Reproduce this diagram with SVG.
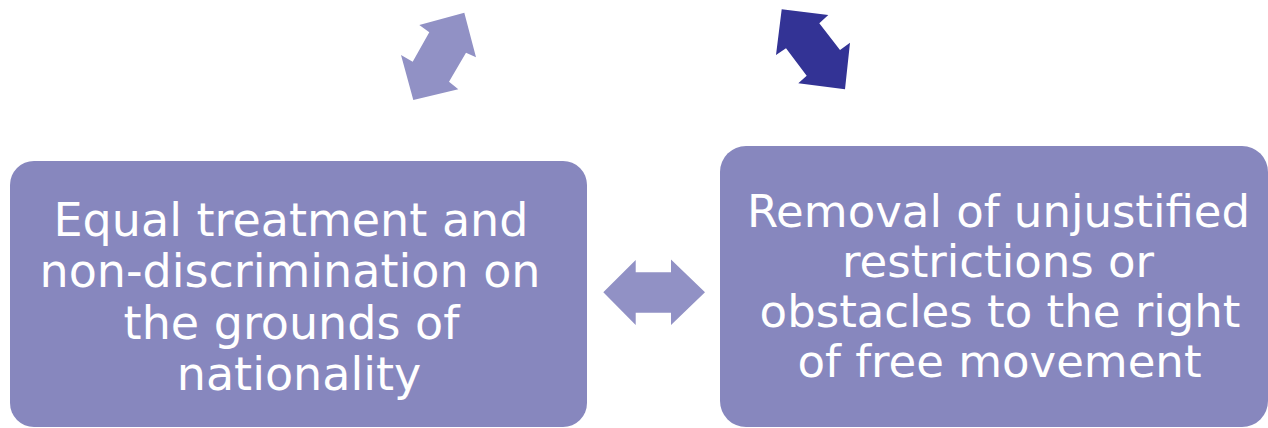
<svg xmlns="http://www.w3.org/2000/svg" width="1268" height="428" viewBox="0 0 1268 428">
<style>
.box{fill:#8787be;}
.lt{fill:#9191c5;}
.dk{fill:#333395;}
.t{fill:#ffffff;font-family:"DejaVu Sans","Verdana",sans-serif;text-anchor:middle;}
.l{font-size:46px;}
.r{font-size:45px;}
</style>
<rect width="1268" height="428" fill="#ffffff"/>
<g id="connectors">
<polygon class="lt" points="464.3,12.7 476,57.3 466,52.7 449,81.7 458.3,89.3 413.3,100 401,55 412.7,61.7 429.3,32.3 419.3,25"/>
<polygon class="dk" points="781.7,9.3 828.3,15 819.3,23.3 840,50 850,42.7 845,89.3 798.3,83.3 806.7,75.7 786,48.3 776,55"/>
<polygon class="lt" points="603.3,292.3 635.7,260 635.7,272.3 671,272.3 671,259.5 705,292.3 671,325 671,312.7 635.7,312.7 635.7,325"/>
</g>
<g id="node-equal-treatment">
<rect class="box" x="10" y="161" width="577" height="266" rx="24" ry="24"/>
<text class="t l"><tspan x="291" y="235.5">Equal treatment and</tspan><tspan x="290" y="287">non-discrimination on</tspan><tspan x="291.5" y="338.5">the grounds of</tspan><tspan x="299" y="390">nationality</tspan></text>
</g>
<g id="node-removal">
<rect class="box" x="720" y="146" width="548" height="281" rx="26" ry="26"/>
<text class="t r"><tspan x="998.5" y="226.7">Removal of unjustified</tspan><tspan x="998" y="276.8">restrictions or</tspan><tspan x="1000" y="326.9">obstacles to the right</tspan><tspan x="999.5" y="377">of free movement</tspan></text>
</g>
</svg>
